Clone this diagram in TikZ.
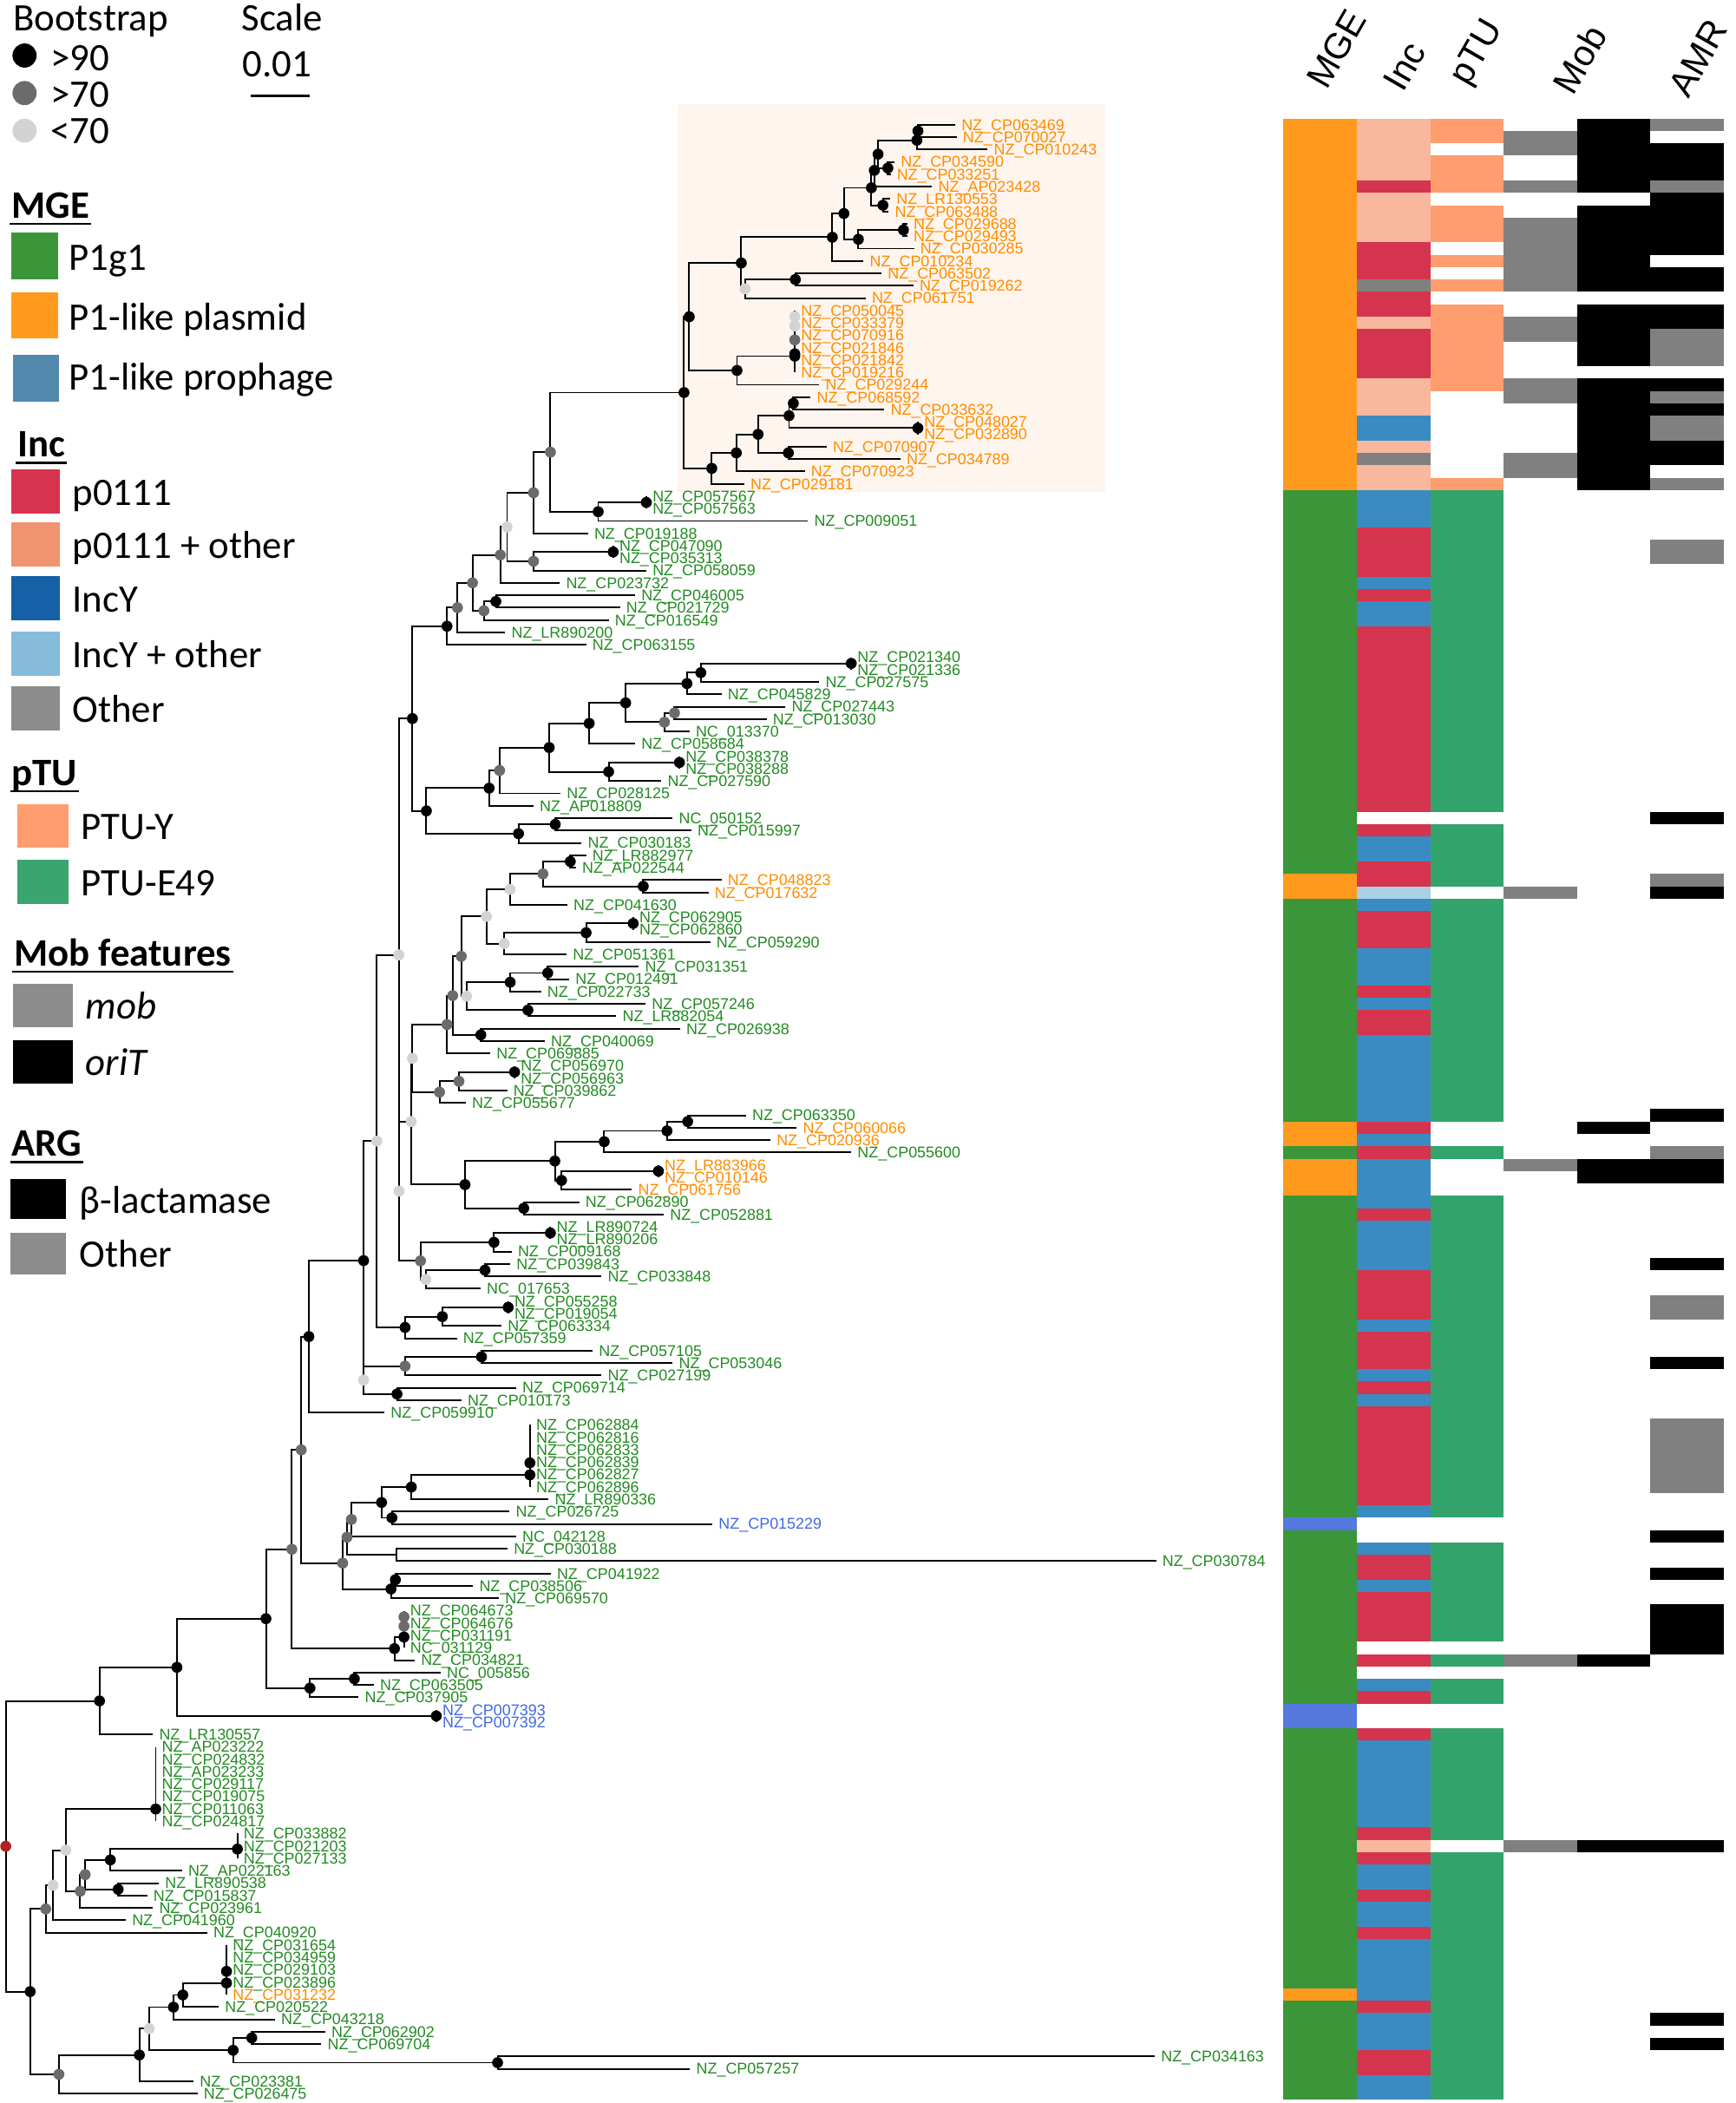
\documentclass[tikz,border=0pt]{standalone}
\usepackage{fontspec}
\setmainfont{Liberation Sans}
\newfontfamily\calfont{Carlito}
\usetikzlibrary{calc}
\definecolor{lblg}{HTML}{228B22}
\definecolor{lblo}{HTML}{FF8C00}
\definecolor{lblb}{HTML}{4169E1}
\definecolor{dgray}{HTML}{6B6B6B}
\definecolor{lgray}{HTML}{D3D3D3}
\definecolor{rootc}{HTML}{B22222}
\definecolor{boxc}{HTML}{FEF5EE}
\definecolor{mgeO}{HTML}{FF9A1F}
\definecolor{mgeG}{HTML}{3A9638}
\definecolor{mgeB}{HTML}{5578DE}
\definecolor{legB}{HTML}{5287AE}
\definecolor{incS}{HTML}{F7B89D}
\definecolor{incR}{HTML}{D5344F}
\definecolor{incB}{HTML}{3A8BC1}
\definecolor{incL}{HTML}{A9D0E5}
\definecolor{hgray}{HTML}{808080}
\definecolor{ptuO}{HTML}{FF9D6F}
\definecolor{ptuG}{HTML}{33A36C}
\definecolor{legS}{HTML}{F0936F}
\definecolor{legIB}{HTML}{1560A7}
\definecolor{legIL}{HTML}{86BBD9}
\definecolor{legGr}{HTML}{8C8C8C}
\definecolor{legPG}{HTML}{3AA56F}
\definecolor{legR}{HTML}{D6344E}
\newcommand\rowy[1]{93+(#1-1)*9.2327}
\newcommand\mkleaf[4]{\coordinate (L#1) at (#2,{\rowy{#1}});\node[leaflab,text=#3] (T#1) at (L#1) {#4};}
\newcommand\mknode[4]{\coordinate (#1m) at ($(#3)!0.5!(#4)$);\coordinate (#1x) at (#2,0);\coordinate (#1) at (#1x |- #1m);\draw[br] (#1) |- (#3);\draw[br] (#1) |- (#4);}
\newcommand\hmap[4]{\fill[#4] ({957+#1*54.717},{88.38+(#2-1)*9.2327}) rectangle ({957+(#1+1)*54.717},{88.38+#3*9.2327});}
\begin{document}
\begin{tikzpicture}[x=1pt,y=-1pt,
  leaflab/.style={anchor=base west,inner sep=0pt,xshift=4.5pt,yshift=-4.1pt,font=\fontsize{11.6}{12}\selectfont},
  br/.style={line width=1.25pt},
  lgt/.style={anchor=base west,inner sep=0pt,font=\calfont\fontsize{29}{29}\selectfont},
  lgh/.style={anchor=base west,inner sep=0pt,font=\calfont\bfseries\fontsize{29}{29}\selectfont},
  lgi/.style={anchor=base west,inner sep=0pt,font=\calfont\itshape\fontsize{29}{29}\selectfont},
  hdr/.style={anchor=base west,inner sep=0pt,rotate=60,font=\fontsize{27}{27}\selectfont},
  ul/.style={line width=1.7pt}]
\fill[white] (0,0) rectangle (1294,1568);
\useasboundingbox (0,0) rectangle (1294,1568);
% highlight box
\fill[boxc] (505.3,77.5) rectangle (824.3,366.5);
% heatmap MGE
\hmap{0}{1}{30}{mgeO}\hmap{0}{31}{61}{mgeG}\hmap{0}{62}{63}{mgeO}\hmap{0}{64}{81}{mgeG}
\hmap{0}{82}{83}{mgeO}\hmap{0}{84}{84}{mgeG}\hmap{0}{85}{87}{mgeO}\hmap{0}{88}{113}{mgeG}
\hmap{0}{114}{114}{mgeB}\hmap{0}{115}{128}{mgeG}\hmap{0}{129}{130}{mgeB}\hmap{0}{131}{151}{mgeG}
\hmap{0}{152}{152}{mgeO}\hmap{0}{153}{160}{mgeG}
% Inc
\hmap{1}{1}{5}{incS}\hmap{1}{6}{6}{incR}\hmap{1}{7}{10}{incS}\hmap{1}{11}{13}{incR}\hmap{1}{14}{14}{hgray}
\hmap{1}{15}{16}{incR}\hmap{1}{17}{17}{incS}\hmap{1}{18}{21}{incR}\hmap{1}{22}{24}{incS}\hmap{1}{25}{26}{incB}
\hmap{1}{27}{27}{incS}\hmap{1}{28}{28}{hgray}\hmap{1}{29}{30}{incS}\hmap{1}{31}{33}{incB}\hmap{1}{34}{37}{incR}
\hmap{1}{38}{38}{incB}\hmap{1}{39}{39}{incR}\hmap{1}{40}{41}{incB}\hmap{1}{42}{56}{incR}\hmap{1}{58}{58}{incR}
\hmap{1}{59}{60}{incB}\hmap{1}{61}{62}{incR}\hmap{1}{63}{63}{incL}\hmap{1}{64}{64}{incB}\hmap{1}{65}{67}{incR}
\hmap{1}{68}{70}{incB}\hmap{1}{71}{71}{incR}\hmap{1}{72}{72}{incB}\hmap{1}{73}{74}{incR}\hmap{1}{75}{81}{incB}
\hmap{1}{82}{82}{incR}\hmap{1}{83}{83}{incB}\hmap{1}{84}{84}{incR}\hmap{1}{85}{88}{incB}\hmap{1}{89}{89}{incR}
\hmap{1}{90}{93}{incB}\hmap{1}{94}{97}{incR}\hmap{1}{98}{98}{incB}\hmap{1}{99}{101}{incR}\hmap{1}{102}{102}{incB}
\hmap{1}{103}{103}{incR}\hmap{1}{104}{104}{incB}\hmap{1}{105}{112}{incR}\hmap{1}{113}{113}{incB}
\hmap{1}{116}{116}{incB}\hmap{1}{117}{118}{incR}\hmap{1}{119}{119}{incB}\hmap{1}{120}{123}{incR}
\hmap{1}{125}{125}{incR}\hmap{1}{127}{127}{incB}\hmap{1}{128}{128}{incR}\hmap{1}{131}{131}{incR}
\hmap{1}{132}{138}{incB}\hmap{1}{139}{139}{incR}\hmap{1}{140}{140}{incS}\hmap{1}{141}{141}{incR}
\hmap{1}{142}{143}{incB}\hmap{1}{144}{144}{incR}\hmap{1}{145}{146}{incB}\hmap{1}{147}{147}{incR}
\hmap{1}{148}{152}{incB}\hmap{1}{153}{153}{incR}\hmap{1}{154}{156}{incB}\hmap{1}{157}{158}{incR}\hmap{1}{159}{160}{incB}
% pTU
\hmap{2}{1}{2}{ptuO}\hmap{2}{4}{6}{ptuO}\hmap{2}{8}{10}{ptuO}\hmap{2}{12}{12}{ptuO}\hmap{2}{14}{14}{ptuO}
\hmap{2}{16}{22}{ptuO}\hmap{2}{30}{30}{ptuO}\hmap{2}{31}{56}{ptuG}\hmap{2}{58}{62}{ptuG}\hmap{2}{64}{81}{ptuG}
\hmap{2}{84}{84}{ptuG}\hmap{2}{88}{113}{ptuG}\hmap{2}{116}{123}{ptuG}\hmap{2}{125}{125}{ptuG}
\hmap{2}{127}{128}{ptuG}\hmap{2}{131}{139}{ptuG}\hmap{2}{141}{160}{ptuG}
% mob
\hmap{3}{2}{3}{hgray}\hmap{3}{6}{6}{hgray}\hmap{3}{9}{14}{hgray}\hmap{3}{17}{18}{hgray}\hmap{3}{22}{23}{hgray}
\hmap{3}{28}{29}{hgray}\hmap{3}{63}{63}{hgray}\hmap{3}{85}{85}{hgray}\hmap{3}{125}{125}{hgray}\hmap{3}{140}{140}{hgray}
% oriT
\hmap{4}{1}{6}{black}\hmap{4}{8}{14}{black}\hmap{4}{16}{20}{black}\hmap{4}{22}{30}{black}
\hmap{4}{82}{82}{black}\hmap{4}{85}{86}{black}\hmap{4}{125}{125}{black}\hmap{4}{140}{140}{black}
% AMR
\hmap{5}{1}{1}{hgray}\hmap{5}{3}{5}{black}\hmap{5}{6}{6}{hgray}\hmap{5}{7}{11}{black}\hmap{5}{13}{14}{black}
\hmap{5}{16}{17}{black}\hmap{5}{18}{20}{hgray}\hmap{5}{22}{22}{black}\hmap{5}{23}{23}{hgray}\hmap{5}{24}{24}{black}
\hmap{5}{25}{26}{hgray}\hmap{5}{27}{28}{black}\hmap{5}{30}{30}{hgray}\hmap{5}{35}{36}{hgray}\hmap{5}{57}{57}{black}
\hmap{5}{62}{62}{hgray}\hmap{5}{63}{63}{black}\hmap{5}{81}{81}{black}\hmap{5}{84}{84}{hgray}\hmap{5}{85}{86}{black}
\hmap{5}{93}{93}{black}\hmap{5}{96}{97}{hgray}\hmap{5}{101}{101}{black}\hmap{5}{106}{111}{hgray}
\hmap{5}{115}{115}{black}\hmap{5}{118}{118}{black}\hmap{5}{121}{124}{black}\hmap{5}{140}{140}{black}
\hmap{5}{154}{154}{black}\hmap{5}{156}{156}{black}
% headers
\node[hdr] (hMGE) at (989,68) {MGE};
\node[hdr] (hInc) at (1046,70) {Inc};
\node[hdr] (hpTU) at (1095,65) {pTU};
\node[hdr] (hMob) at (1173,72) {Mob};
\node[hdr] (hAMR) at (1259,74) {AMR};
% leaves
\mkleaf{1}{712.2}{lblo}{NZ\_CP063469}
\mkleaf{2}{713.3}{lblo}{NZ\_CP070027}
\mkleaf{3}{736.4}{lblo}{NZ\_CP010243}
\mkleaf{4}{667}{lblo}{NZ\_CP034590}
\mkleaf{5}{664}{lblo}{NZ\_CP033251}
\mkleaf{6}{695}{lblo}{NZ\_AP023428}
\mkleaf{7}{663.7}{lblo}{NZ\_LR130553}
\mkleaf{8}{662.6}{lblo}{NZ\_CP063488}
\mkleaf{9}{676.5}{lblo}{NZ\_CP029688}
\mkleaf{10}{676.5}{lblo}{NZ\_CP029493}
\mkleaf{11}{681.6}{lblo}{NZ\_CP030285}
\mkleaf{12}{643.9}{lblo}{NZ\_CP010234}
\mkleaf{13}{657.3}{lblo}{NZ\_CP063502}
\mkleaf{14}{681}{lblo}{NZ\_CP019262}
\mkleaf{15}{645.4}{lblo}{NZ\_CP061751}
\mkleaf{16}{592.6}{lblo}{NZ\_CP050045}
\mkleaf{17}{592.6}{lblo}{NZ\_CP033379}
\mkleaf{18}{592.6}{lblo}{NZ\_CP070916}
\mkleaf{19}{592.6}{lblo}{NZ\_CP021846}
\mkleaf{20}{592.6}{lblo}{NZ\_CP021842}
\mkleaf{21}{592.6}{lblo}{NZ\_CP019216}
\mkleaf{22}{610.9}{lblo}{NZ\_CP029244}
\mkleaf{23}{604.4}{lblo}{NZ\_CP068592}
\mkleaf{24}{659.4}{lblo}{NZ\_CP033632}
\mkleaf{25}{684.4}{lblo}{NZ\_CP048027}
\mkleaf{26}{684.4}{lblo}{NZ\_CP032890}
\mkleaf{27}{616.3}{lblo}{NZ\_CP070907}
\mkleaf{28}{671.3}{lblo}{NZ\_CP034789}
\mkleaf{29}{600.1}{lblo}{NZ\_CP070923}
\mkleaf{30}{554.9}{lblo}{NZ\_CP029181}
\mkleaf{31}{481.9}{lblg}{NZ\_CP057567}
\mkleaf{32}{481.9}{lblg}{NZ\_CP057563}
\mkleaf{33}{602.5}{lblg}{NZ\_CP009051}
\mkleaf{34}{438.4}{lblg}{NZ\_CP019188}
\mkleaf{35}{457.2}{lblg}{NZ\_CP047090}
\mkleaf{36}{457.2}{lblg}{NZ\_CP035313}
\mkleaf{37}{481.9}{lblg}{NZ\_CP058059}
\mkleaf{38}{417.4}{lblg}{NZ\_CP023732}
\mkleaf{39}{473.5}{lblg}{NZ\_CP046005}
\mkleaf{40}{462.3}{lblg}{NZ\_CP021729}
\mkleaf{41}{453.9}{lblg}{NZ\_CP016549}
\mkleaf{42}{376.7}{lblg}{NZ\_LR890200}
\mkleaf{43}{437.0}{lblg}{NZ\_CP063155}
\mkleaf{44}{634.7}{lblg}{NZ\_CP021340}
\mkleaf{45}{634.7}{lblg}{NZ\_CP021336}
\mkleaf{46}{610.9}{lblg}{NZ\_CP027575}
\mkleaf{47}{538.0}{lblg}{NZ\_CP045829}
\mkleaf{48}{585.6}{lblg}{NZ\_CP027443}
\mkleaf{49}{571.6}{lblg}{NZ\_CP013030}
\mkleaf{50}{514.1}{lblg}{NC\_013370}
\mkleaf{51}{473.5}{lblg}{NZ\_CP058684}
\mkleaf{52}{506.6}{lblg}{NZ\_CP038378}
\mkleaf{53}{506.6}{lblg}{NZ\_CP038288}
\mkleaf{54}{493.1}{lblg}{NZ\_CP027590}
\mkleaf{55}{418.0}{lblg}{NZ\_CP028125}
\mkleaf{56}{397.8}{lblg}{NZ\_AP018809}
\mkleaf{57}{501.5}{lblg}{NC\_050152}
\mkleaf{58}{515.5}{lblg}{NZ\_CP015997}
\mkleaf{59}{433.7}{lblg}{NZ\_CP030183}
\mkleaf{60}{437.0}{lblg}{NZ\_LR882977}
\mkleaf{61}{429.5}{lblg}{NZ\_AP022544}
\mkleaf{62}{538.0}{lblo}{NZ\_CP048823}
\mkleaf{63}{528.2}{lblo}{NZ\_CP017632}
\mkleaf{64}{423.0}{lblg}{NZ\_CP041630}
\mkleaf{65}{472.1}{lblg}{NZ\_CP062905}
\mkleaf{66}{472.1}{lblg}{NZ\_CP062860}
\mkleaf{67}{529.6}{lblg}{NZ\_CP059290}
\mkleaf{68}{422.4}{lblg}{NZ\_CP051361}
\mkleaf{69}{476.3}{lblg}{NZ\_CP031351}
\mkleaf{70}{424.4}{lblg}{NZ\_CP012491}
\mkleaf{71}{403.4}{lblg}{NZ\_CP022733}
\mkleaf{72}{481.3}{lblg}{NZ\_CP057246}
\mkleaf{73}{459.5}{lblg}{NZ\_LR882054}
\mkleaf{74}{507.1}{lblg}{NZ\_CP026938}
\mkleaf{75}{406.2}{lblg}{NZ\_CP040069}
\mkleaf{76}{365.5}{lblg}{NZ\_CP069885}
\mkleaf{77}{383.7}{lblg}{NZ\_CP056970}
\mkleaf{78}{383.7}{lblg}{NZ\_CP056963}
\mkleaf{79}{378.1}{lblg}{NZ\_CP039862}
\mkleaf{80}{347.3}{lblg}{NZ\_CP055677}
\mkleaf{81}{556.2}{lblg}{NZ\_CP063350}
\mkleaf{82}{594.0}{lblo}{NZ\_CP060066}
\mkleaf{83}{574.4}{lblo}{NZ\_CP020936}
\mkleaf{84}{634.7}{lblg}{NZ\_CP055600}
\mkleaf{85}{490.9}{lblo}{NZ\_LR883966}
\mkleaf{86}{490.9}{lblo}{NZ\_CP010146}
\mkleaf{87}{471.1}{lblo}{NZ\_CP061756}
\mkleaf{88}{431.9}{lblg}{NZ\_CP062890}
\mkleaf{89}{494.9}{lblg}{NZ\_CP052881}
\mkleaf{90}{410.4}{lblg}{NZ\_LR890724}
\mkleaf{91}{410.4}{lblg}{NZ\_LR890206}
\mkleaf{92}{381.5}{lblg}{NZ\_CP009168}
\mkleaf{93}{380.5}{lblg}{NZ\_CP039843}
\mkleaf{94}{448.5}{lblg}{NZ\_CP033848}
\mkleaf{95}{358.3}{lblg}{NC\_017653}
\mkleaf{96}{378.9}{lblg}{NZ\_CP055258}
\mkleaf{97}{378.9}{lblg}{NZ\_CP019054}
\mkleaf{98}{373.9}{lblg}{NZ\_CP063334}
\mkleaf{99}{340.7}{lblg}{NZ\_CP057359}
\mkleaf{100}{441.9}{lblg}{NZ\_CP057105}
\mkleaf{101}{501.6}{lblg}{NZ\_CP053046}
\mkleaf{102}{448.5}{lblg}{NZ\_CP027199}
\mkleaf{103}{384.8}{lblg}{NZ\_CP069714}
\mkleaf{104}{344.0}{lblg}{NZ\_CP010173}
\mkleaf{105}{286.7}{lblg}{NZ\_CP059910}
\mkleaf{106}{395.1}{lblg}{NZ\_CP062884}
\mkleaf{107}{395.1}{lblg}{NZ\_CP062816}
\mkleaf{108}{395.1}{lblg}{NZ\_CP062833}
\mkleaf{109}{395.1}{lblg}{NZ\_CP062839}
\mkleaf{110}{395.1}{lblg}{NZ\_CP062827}
\mkleaf{111}{395.1}{lblg}{NZ\_CP062896}
\mkleaf{112}{409.0}{lblg}{NZ\_LR890336}
\mkleaf{113}{380.0}{lblg}{NZ\_CP026725}
\mkleaf{114}{531.2}{lblb}{NZ\_CP015229}
\mkleaf{115}{384.8}{lblg}{NC\_042128}
\mkleaf{116}{378.4}{lblg}{NZ\_CP030188}
\mkleaf{117}{862}{lblg}{NZ\_CP030784}
\mkleaf{118}{410.6}{lblg}{NZ\_CP041922}
\mkleaf{119}{352.7}{lblg}{NZ\_CP038506}
\mkleaf{120}{372.0}{lblg}{NZ\_CP069570}
\mkleaf{121}{301.2}{lblg}{NZ\_CP064673}
\mkleaf{122}{301.2}{lblg}{NZ\_CP064676}
\mkleaf{123}{301.2}{lblg}{NZ\_CP031191}
\mkleaf{124}{301.2}{lblg}{NC\_031129}
\mkleaf{125}{309.2}{lblg}{NZ\_CP034821}
\mkleaf{126}{328.5}{lblg}{NC\_005856}
\mkleaf{127}{278.7}{lblg}{NZ\_CP063505}
\mkleaf{128}{267.4}{lblg}{NZ\_CP037905}
\mkleaf{129}{325.3}{lblb}{NZ\_CP007393}
\mkleaf{130}{325.3}{lblb}{NZ\_CP007392}
\mkleaf{131}{114.0}{lblg}{NZ\_LR130557}
\mkleaf{132}{116.1}{lblg}{NZ\_AP023222}
\mkleaf{133}{116.1}{lblg}{NZ\_CP024832}
\mkleaf{134}{116.1}{lblg}{NZ\_AP023233}
\mkleaf{135}{116.1}{lblg}{NZ\_CP029117}
\mkleaf{136}{116.1}{lblg}{NZ\_CP019075}
\mkleaf{137}{116.1}{lblg}{NZ\_CP011063}
\mkleaf{138}{116.1}{lblg}{NZ\_CP024817}
\mkleaf{139}{177.0}{lblg}{NZ\_CP033882}
\mkleaf{140}{177.0}{lblg}{NZ\_CP021203}
\mkleaf{141}{177.0}{lblg}{NZ\_CP027133}
\mkleaf{142}{135.7}{lblg}{NZ\_AP022163}
\mkleaf{143}{118.4}{lblg}{NZ\_LR890538}
\mkleaf{144}{109.7}{lblg}{NZ\_CP015837}
\mkleaf{145}{114.0}{lblg}{NZ\_CP023961}
\mkleaf{146}{93.8}{lblg}{NZ\_CP041960}
\mkleaf{147}{154.5}{lblg}{NZ\_CP040920}
\mkleaf{148}{168.9}{lblg}{NZ\_CP031654}
\mkleaf{149}{168.9}{lblg}{NZ\_CP034959}
\mkleaf{150}{168.9}{lblg}{NZ\_CP029103}
\mkleaf{151}{168.9}{lblg}{NZ\_CP023896}
\mkleaf{152}{168.9}{lblo}{NZ\_CP031232}
\mkleaf{153}{163.1}{lblg}{NZ\_CP020522}
\mkleaf{154}{205.0}{lblg}{NZ\_CP043218}
\mkleaf{155}{242.5}{lblg}{NZ\_CP062902}
\mkleaf{156}{239.6}{lblg}{NZ\_CP069704}
\mkleaf{157}{861}{lblg}{NZ\_CP034163}
\mkleaf{158}{514.5}{lblg}{NZ\_CP057257}
\mkleaf{159}{144.4}{lblg}{NZ\_CP023381}
\mkleaf{160}{147.2}{lblg}{NZ\_CP026475}
% internal nodes
\mknode{a7}{684.4}{L1}{L2}
\mknode{a6}{683.6}{a7}{L3}
\mknode{a5}{662.0}{L4}{L5}
\mknode{a4}{654.7}{a6}{a5}
\mknode{a2}{651.9}{a4}{L6}
\mknode{a3}{658.3}{L7}{L8}
\mknode{a1}{649.7}{a2}{a3}
\mknode{a8}{673.6}{L9}{L10}
\mknode{a9}{640.0}{a8}{L11}
\mknode{a10}{629.2}{a1}{a9}
\mknode{a11}{620.6}{a10}{L12}
\mknode{a12}{593.0}{L13}{L14}
\mknode{a13}{555.5}{a12}{L15}
\mknode{a14}{552.7}{a11}{a13}
\mknode{pK}{592.6}{L16}{L17}
\mknode{pL}{592.6}{pK}{L18}
\mknode{pM}{592.6}{L19}{L20}
\mknode{pG}{592.6}{pL}{pM}
\mknode{pR}{592.6}{pG}{L21}
\mknode{a15}{549.5}{pR}{L22}
\mknode{a16}{513.9}{a14}{a15}
\mknode{a17}{591.5}{L23}{L24}
\mknode{a18}{684.4}{L25}{L26}
\mknode{a19}{588.3}{a17}{a18}
\mknode{a20}{587.8}{L27}{L28}
\mknode{a21}{565.2}{a19}{a20}
\mknode{a22}{549.0}{a21}{L29}
\mknode{a23}{530.7}{a22}{L30}
\mknode{a24}{510.0}{a16}{a23}
\mknode{b1}{481.9}{L31}{L32}
\mknode{b2}{446.0}{b1}{L33}
\mknode{b3}{410.4}{a24}{b2}
\mknode{b4}{397.8}{b3}{L34}
\mknode{b5}{457.2}{L35}{L36}
\mknode{b6}{397.8}{b5}{L37}
\mknode{b7}{378.1}{b4}{b6}
\mknode{b8}{373.1}{b7}{L38}
\mknode{b9}{369.7}{L39}{L40}
\mknode{b10}{360.8}{b9}{L41}
\mknode{b11}{352.3}{b8}{b10}
\mknode{b12}{341.1}{b11}{L42}
\mknode{b13}{333.3}{b12}{L43}
\mknode{c1}{634.7}{L44}{L45}
\mknode{c2}{522.5}{c1}{L46}
\mknode{c3}{512.2}{c2}{L47}
\mknode{c4}{502.9}{L48}{L49}
\mknode{c5}{495.4}{c4}{L50}
\mknode{c6}{466.5}{c3}{c5}
\mknode{c7}{439.3}{c6}{L51}
\mknode{c8}{506.6}{L52}{L53}
\mknode{c9}{453.8}{c8}{L54}
\mknode{c10}{409.5}{c7}{c9}
\mknode{c11}{372.5}{c10}{L55}
\mknode{c12}{364.7}{c11}{L56}
\mknode{c13}{414.0}{L57}{L58}
\mknode{c14}{386.6}{c13}{L59}
\mknode{c15}{317.9}{c12}{c14}
\mknode{c16}{307.5}{b13}{c15}
\mknode{d1}{425.2}{L60}{L61}
\mknode{d2}{479.6}{L62}{L63}
\mknode{d3}{404.8}{d1}{d2}
\mknode{d4}{380.4}{d3}{L64}
\mknode{d5}{472.1}{L65}{L66}
\mknode{d6}{437.0}{d5}{L67}
\mknode{d7}{375.9}{d6}{L68}
\mknode{d8}{362.7}{d4}{d7}
\mknode{d9}{408.4}{L69}{L70}
\mknode{d10}{380.4}{d9}{L71}
\mknode{d11}{393.6}{L72}{L73}
\mknode{d12}{347.9}{d10}{d11}
\mknode{d13}{343.9}{d8}{d12}
\mknode{d14}{358.5}{L74}{L75}
\mknode{d15}{337.5}{d13}{d14}
\mknode{d16}{333.3}{d15}{L76}
\mknode{d17}{383.7}{L77}{L78}
\mknode{d18}{342.2}{d17}{L79}
\mknode{d19}{327.7}{d18}{L80}
\mknode{d20}{307.5}{d16}{d19}
\mknode{e1}{512.7}{L81}{L82}
\mknode{e2}{497.3}{e1}{L83}
\mknode{e3}{450.5}{e2}{L84}
\mknode{e4}{490.9}{L85}{L86}
\mknode{e5}{418.7}{e4}{L87}
\mknode{e6}{413.7}{e3}{e5}
\mknode{e7}{390.5}{L88}{L89}
\mknode{e8}{346.7}{e6}{e7}
\mknode{e9}{306.6}{d20}{e8}
\mknode{f1}{410.4}{L90}{L91}
\mknode{f2}{368.3}{f1}{L92}
\mknode{f3}{361.6}{L93}{L94}
\mknode{f4}{317.5}{f3}{L95}
\mknode{f5}{313.5}{f2}{f4}
\mknode{f6}{297.6}{e9}{f5}
\mknode{f7}{297.4}{c16}{f6}
\mknode{g1}{378.9}{L96}{L97}
\mknode{g2}{329.8}{g1}{L98}
\mknode{g3}{302.0}{g2}{L99}
\mknode{g4}{281.0}{f7}{g3}
\mknode{g5}{359.0}{L100}{L101}
\mknode{g6}{302.0}{g5}{L102}
\mknode{g7}{296.0}{L103}{L104}
\mknode{g8}{271.1}{g6}{g7}
\mknode{g9}{271.1}{g4}{g8}
\mknode{g10}{230.3}{g9}{L105}
\mknode{hV}{395.1}{L106}{L107}
\mknode{hW}{395.1}{hV}{L108}
\mknode{hZ}{395.1}{hW}{L109}
\mknode{hY}{395.1}{hZ}{L110}
\mknode{hR}{395.1}{hY}{L111}
\mknode{h1}{306.7}{hR}{L112}
\mknode{h2}{292.2}{L113}{L114}
\mknode{h3}{284.5}{h1}{h2}
\mknode{h4}{262.0}{h3}{L115}
\mknode{h5}{295.4}{L116}{L117}
\mknode{h6}{258.7}{h4}{h5}
\mknode{h7}{294.8}{L118}{L119}
\mknode{h8}{291.5}{h7}{L120}
\mknode{h9}{255.5}{h6}{h8}
\mknode{h10}{224.6}{g10}{h9}
\mknode{iW}{301.2}{L121}{L122}
\mknode{iZ}{301.2}{iW}{L123}
\mknode{iY}{301.2}{iZ}{L124}
\mknode{i1}{294.1}{iY}{L125}
\mknode{i2}{217.6}{h10}{i1}
\mknode{i3}{264.2}{L126}{L127}
\mknode{i4}{231.1}{i3}{L128}
\mknode{i5}{198.3}{i2}{i4}
\mknode{i6}{325.3}{L129}{L130}
\mknode{i7}{131.9}{i5}{i6}
\mknode{i8}{74.2}{i7}{L131}
\mknode{jA}{116.1}{L132}{L133}
\mknode{jB}{116.1}{jA}{L134}
\mknode{jC}{116.1}{jB}{L135}
\mknode{jD}{116.1}{jC}{L136}
\mknode{jE}{116.1}{jD}{L137}
\mknode{jF}{116.1}{jE}{L138}
\mknode{kA}{177.0}{L139}{L140}
\mknode{kB}{177.0}{kA}{L141}
\mknode{k1}{82.3}{kB}{L142}
\mknode{k2}{88.1}{L143}{L144}
\mknode{k3}{63.5}{k1}{k2}
\mknode{k4}{59.8}{k3}{L145}
\mknode{k5}{49.1}{jF}{k4}
\mknode{k6}{39.6}{k5}{L146}
\mknode{k7}{34.1}{k6}{L147}
\mknode{mA}{168.9}{L148}{L149}
\mknode{mB}{168.9}{mA}{L150}
\mknode{mC}{168.9}{mB}{L151}
\mknode{mD}{168.9}{mC}{L152}
\mknode{m1}{136.3}{mD}{L153}
\mknode{m2}{129.3}{m1}{L154}
\mknode{m3}{187.7}{L155}{L156}
\mknode{m4}{371.0}{L157}{L158}
\mknode{m5}{173.8}{m3}{m4}
\mknode{m6}{111.2}{m2}{m5}
\mknode{m7}{103.9}{m6}{L159}
\mknode{m8}{43.9}{m7}{L160}
\mknode{m9}{22.5}{k7}{m8}
\mknode{root}{4.3}{i8}{m9}
% bootstrap dots
\foreach \n in {a7,a6,a5,a4,a2,a3,a1,a8,a9,a10,a11,a12,a14,pM,pR,a15,a16,a17,a18,a19,a20,a21,a22,a23,a24,b1,b2,b5,b9,b13,c1,c2,c3,c6,c7,c8,c9,c10,c12,c13,c14,c15,c16,d1,d2,d5,d6,d9,d10,d11,d14,d17,e1,e2,e3,e4,e5,e6,e7,e8,f1,f2,f3,g1,g2,g3,g5,g7,g9,g10,hY,hR,h1,h2,h3,h7,h8,iY,i1,i3,i4,i5,i6,i7,i8,jF,kB,k1,k2,mC,mD,m1,m2,m3,m4,m5,m7,m9}
  \fill[black] (\n) circle (4.1);
\foreach \n in {pG,b3,b4,b6,b8,b10,b11,b12,c4,c5,c11,d3,d13,d15,d16,d18,d19,f5,g6,h4,h6,h9,h10,iW,iZ,i2,k3,k4,k7,m8}
  \fill[dgray] (\n) circle (4.1);
\foreach \n in {a13,pK,pL,b7,d4,d7,d8,d12,d20,e9,f4,f6,f7,g4,g8,k5,k6,m6}
  \fill[lgray] (\n) circle (4.1);
\fill[rootc] (root) circle (4.1);
% legend: bootstrap and scale
\node[lgt] (lbBoot) at (9.7,23) {Bootstrap};
\node[lgt] (lbScale) at (180,23) {Scale};
\fill[black] (18.3,41.4) circle (9);
\fill[dgray] (18.3,69.4) circle (9);
\fill[lgray] (18.3,97.4) circle (9);
\node[lgt] (lb90) at (37.7,53) {>90};
\node[lgt] (lb70) at (37.7,80) {>70};
\node[lgt] (lbl70) at (37.7,107) {<70};
\node[lgt] (lbScv) at (180.6,57.5) {0.01};
\draw[line width=2.2pt] (187.1,71.6) -- (231.1,71.6);
% MGE legend
\node[lgh] (hdMGE) at (8.6,162.5) {MGE};
\draw[ul] ([xshift=-1.5pt,yshift=-4.5pt]hdMGE.base west) -- ([xshift=1pt,yshift=-4.5pt]hdMGE.base east);
\fill[mgeG] (8.6,173.5) rectangle (43.1,208);
\fill[mgeO] (8.6,218.2) rectangle (43.1,252.2);
\fill[legB] (9.7,264.7) rectangle (44.2,299.2);
\node[lgt] (lbP1) at (51.3,201.5) {P1g1};
\node[lgt] (lbP2) at (51.3,246) {P1-like plasmid};
\node[lgt] (lbP3) at (51.3,290.5) {P1-like prophage};
% Inc legend
\node[lgh] (hdInc) at (12.9,340.5) {Inc};
\draw[ul] ([xshift=-1.5pt,yshift=-4.5pt]hdInc.base west) -- ([xshift=1pt,yshift=-4.5pt]hdInc.base east);
\fill[legR] (8.2,350.1) rectangle (44.8,383.1);
\fill[legS] (8.2,389.3) rectangle (44.8,422.3);
\fill[legIB] (8.2,429.3) rectangle (44.8,462.3);
\fill[legIL] (8.2,470.9) rectangle (44.8,503.9);
\fill[legGr] (8.2,511.8) rectangle (44.8,544.8);
\node[lgt] (lbI1) at (53.9,377) {p0111};
\node[lgt] (lbI2) at (53.9,416.2) {p0111 + other};
\node[lgt] (lbI3) at (53.9,456.2) {IncY};
\node[lgt] (lbI4) at (53.9,497.8) {IncY + other};
\node[lgt] (lbI5) at (53.9,538.7) {Other};
% pTU legend
\node[lgh] (hdpTU) at (8.6,585.5) {pTU};
\draw[ul] ([xshift=-1pt,yshift=-4.5pt]hdpTU.base west) -- ([xshift=1pt,yshift=-4.5pt]hdpTU.base east);
\fill[ptuO] (12.9,599.6) rectangle (51.3,631.8);
\fill[legPG] (12.9,640.8) rectangle (51.3,673.8);
\node[lgt] (lbT1) at (60.4,626) {PTU-Y};
\node[lgt] (lbT2) at (60.4,667.7) {PTU-E49};
% Mob legend
\node[lgh] (hdMob) at (10.3,720) {Mob features};
\draw[ul] ([xshift=-1pt,yshift=-4.5pt]hdMob.base west) -- ([xshift=1pt,yshift=-4.5pt]hdMob.base east);
\fill[legGr] (9.7,733.6) rectangle (54.3,765.8);
\fill[black] (9.7,775.7) rectangle (54.3,807.9);
\node[lgi] (lbM1) at (63.6,760) {mob};
\node[lgi] (lbM2) at (63.6,802) {oriT};
% ARG legend
\node[lgh] (hdARG) at (8.6,862) {ARG};
\draw[ul] ([xshift=-1pt,yshift=-4.5pt]hdARG.base west) -- ([xshift=1pt,yshift=-4.5pt]hdARG.base east);
\fill[black] (8,879.2) rectangle (49.1,908.9);
\fill[legGr] (8,919.2) rectangle (49.1,950.1);
\node[lgt] (lbA1) at (59.3,904.5) {β-lactamase};
\node[lgt] (lbA2) at (59.3,945) {Other};
\end{tikzpicture}
\end{document}
